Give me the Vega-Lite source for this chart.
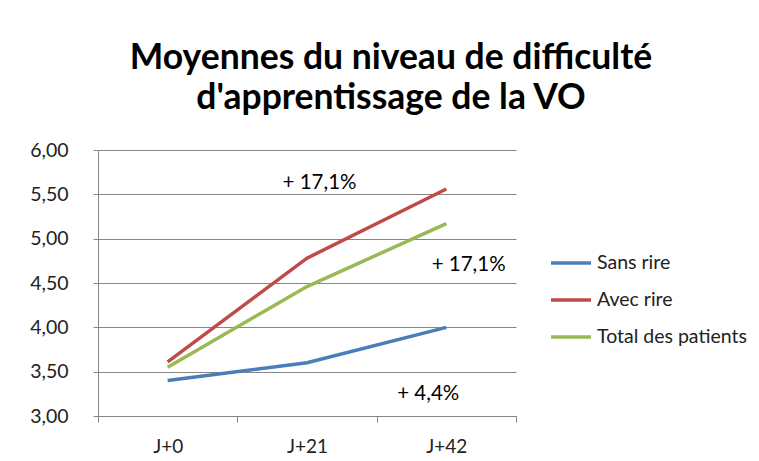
{
  "$schema": "https://vega.github.io/schema/vega-lite/v6.json",
  "width": 418,
  "height": 266,
  "autosize": {"type": "none"},
  "padding": {"left": 98, "top": 150, "right": 243, "bottom": 45},
  "background": "white",
  "title": {
    "text": ["Moyennes du niveau de difficulté", "d'apprentissage de la VO"],
    "font": "Lato",
    "fontSize": 35.5,
    "fontWeight": "bold",
    "color": "black",
    "anchor": "middle",
    "dx": 84,
    "lineHeight": 40,
    "offset": 24
  },
  "config": {"view": {"stroke": null}, "font": "Lato"},
  "layer": [
    {
      "data": {
        "values": [
          {"jour": "J+0", "serie": "Sans rire", "valeur": 3.40},
          {"jour": "J+21", "serie": "Sans rire", "valeur": 3.60},
          {"jour": "J+42", "serie": "Sans rire", "valeur": 4.00},
          {"jour": "J+0", "serie": "Avec rire", "valeur": 3.61},
          {"jour": "J+21", "serie": "Avec rire", "valeur": 4.78},
          {"jour": "J+42", "serie": "Avec rire", "valeur": 5.56},
          {"jour": "J+0", "serie": "Total des patients", "valeur": 3.55},
          {"jour": "J+21", "serie": "Total des patients", "valeur": 4.46},
          {"jour": "J+42", "serie": "Total des patients", "valeur": 5.17}
        ]
      },
      "mark": {"type": "line", "strokeWidth": 3.5},
      "encoding": {
        "x": {
          "field": "jour",
          "type": "ordinal",
          "sort": ["J+0", "J+21", "J+42"],
          "scale": {"type": "band", "paddingInner": 0, "paddingOuter": 0},
          "axis": {
            "title": null,
            "labelAngle": 0,
            "labelFont": "Lato",
            "labelFontSize": 19,
            "labelColor": "#222222",
            "labelPadding": 15,
            "tickBand": "extent",
            "tickSize": 6,
            "tickColor": "#868686",
            "domainColor": "#868686",
            "grid": false
          }
        },
        "y": {
          "field": "valeur",
          "type": "quantitative",
          "scale": {"domain": [3, 6], "nice": false, "zero": false},
          "axis": {
            "title": null,
            "values": [3, 3.5, 4, 4.5, 5, 5.5, 6],
            "labelExpr": "replace(format(datum.value, '.2f'), '.', ',')",
            "labelFont": "Lato",
            "labelFontSize": 19.5,
            "labelColor": "#222222",
            "labelPadding": 25,
            "tickSize": 5,
            "tickColor": "#868686",
            "domainColor": "#868686",
            "gridColor": "#868686",
            "grid": true
          }
        },
        "color": {
          "field": "serie",
          "type": "nominal",
          "scale": {
            "domain": ["Sans rire", "Avec rire", "Total des patients"],
            "range": ["#4a7ebb", "#be4b48", "#98b954"]
          },
          "legend": {
            "title": null,
            "orient": "none",
            "legendX": 451,
            "legendY": 91,
            "symbolType": "stroke",
            "symbolSize": 1600,
            "symbolStrokeWidth": 3.5,
            "labelFont": "Lato",
            "labelFontSize": 19.5,
            "labelColor": "#222222",
            "labelOffset": 4,
            "rowPadding": 5
          }
        }
      }
    },
    {
      "data": {
        "values": [
          {"pos": 1.59, "valeur": 5.63, "label": "+ 17,1%"},
          {"pos": 2.66, "valeur": 4.70, "label": "+ 17,1%"},
          {"pos": 2.37, "valeur": 3.25, "label": "+ 4,4%"}
        ]
      },
      "mark": {"type": "text", "font": "Lato", "fontSize": 20.5, "color": "black"},
      "encoding": {
        "x": {"field": "pos", "type": "quantitative", "scale": {"domain": [0, 3], "nice": false, "zero": false}, "axis": null},
        "y": {"field": "valeur", "type": "quantitative"},
        "text": {"field": "label"}
      }
    }
  ],
  "resolve": {"scale": {"x": "independent"}}
}
